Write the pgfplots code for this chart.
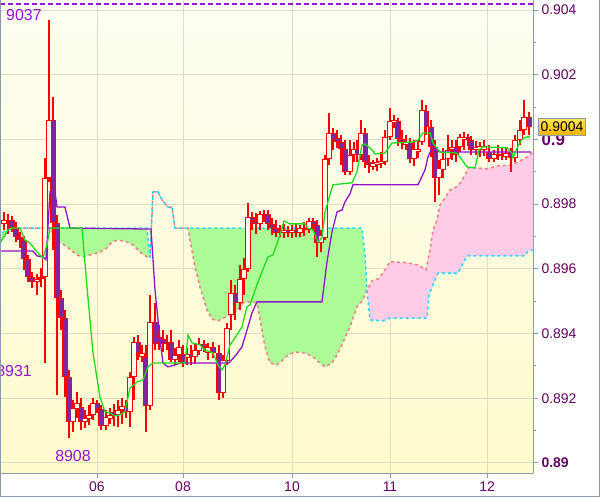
\documentclass[border=0pt]{standalone}
\usepackage{pgfplots}
\pgfplotsset{compat=1.18}
\usepackage{pgfplotstable}
\usepgfplotslibrary{fillbetween}
\usepackage{fontspec}
\setmainfont{Liberation Sans}
\definecolor{candlered}{RGB}{255,0,0}
\definecolor{bearfill}{RGB}{128,36,160}
\definecolor{bullfill}{RGB}{255,254,232}
\definecolor{tenkanc}{RGB}{30,220,30}
\definecolor{kijunc}{RGB}{145,20,205}
\definecolor{spanAc}{RGB}{40,215,255}
\definecolor{spanBc}{RGB}{240,128,128}
\definecolor{cloudg}{RGB}{172,252,152}
\definecolor{cloudp}{RGB}{255,204,232}
\definecolor{gridc}{RGB}{222,222,196}
\definecolor{framec}{RGB}{140,155,170}
\definecolor{labelc}{RGB}{102,0,102}
\definecolor{hiloc}{RGB}{150,20,210}
\definecolor{bgtop}{RGB}{254,254,243}
\definecolor{bgbot}{RGB}{255,251,204}
\definecolor{boxtop}{RGB}{255,232,90}
\definecolor{boxbot}{RGB}{240,180,0}

\pgfplotstableread{
x o h l c
4 0.89739 0.89776 0.89720 0.89751
8 0.89745 0.89770 0.89708 0.89748
12 0.89751 0.89764 0.89714 0.89726
16 0.89726 0.89745 0.89683 0.89699
20 0.89699 0.89714 0.89665 0.89689
24 0.89689 0.89702 0.89597 0.89631
28 0.89631 0.89643 0.89560 0.89575
32 0.89575 0.89591 0.89541 0.89560
37 0.89560 0.89585 0.89519 0.89569
41 0.89569 0.89603 0.89544 0.89575
45 0.89575 0.89943 0.89309 0.89881
49 0.89881 0.90369 0.89869 0.90060
53 0.90060 0.90131 0.89658 0.89742
57 0.89742 0.89767 0.89210 0.89510
61 0.89510 0.89535 0.89411 0.89448
65 0.89448 0.89473 0.89204 0.89266
69 0.89266 0.89288 0.89078 0.89127
73 0.89127 0.89195 0.89096 0.89170
77 0.89167 0.89220 0.89139 0.89186
81 0.89173 0.89201 0.89102 0.89127
85 0.89127 0.89164 0.89108 0.89139
89 0.89136 0.89179 0.89118 0.89149
93 0.89149 0.89201 0.89133 0.89186
97 0.89186 0.89195 0.89155 0.89167
101 0.89167 0.89179 0.89102 0.89115
106 0.89115 0.89164 0.89102 0.89142
110 0.89136 0.89170 0.89121 0.89149
114 0.89158 0.89182 0.89115 0.89145
118 0.89149 0.89195 0.89112 0.89164
122 0.89164 0.89201 0.89121 0.89176
126 0.89173 0.89195 0.89139 0.89158
130 0.89158 0.89282 0.89112 0.89266
134 0.89266 0.89390 0.89195 0.89374
138 0.89374 0.89396 0.89319 0.89340
142 0.89328 0.89365 0.89312 0.89340
146 0.89328 0.89365 0.89096 0.89176
150 0.89176 0.89519 0.89164 0.89436
155 0.89436 0.89495 0.89349 0.89368
159 0.89390 0.89427 0.89349 0.89374
163 0.89383 0.89411 0.89343 0.89368
167 0.89368 0.89396 0.89349 0.89374
171 0.89374 0.89411 0.89312 0.89319
175 0.89319 0.89356 0.89303 0.89334
179 0.89334 0.89380 0.89312 0.89359
183 0.89337 0.89365 0.89297 0.89309
187 0.89325 0.89356 0.89303 0.89337
191 0.89337 0.89365 0.89303 0.89328
195 0.89328 0.89371 0.89306 0.89349
199 0.89346 0.89387 0.89334 0.89368
204 0.89368 0.89380 0.89343 0.89359
208 0.89340 0.89371 0.89319 0.89359
213 0.89359 0.89374 0.89325 0.89340
219 0.89340 0.89365 0.89195 0.89217
223 0.89217 0.89334 0.89201 0.89319
227 0.89315 0.89433 0.89303 0.89417
231 0.89458 0.89566 0.89411 0.89526
235 0.89526 0.89550 0.89442 0.89495
240 0.89495 0.89612 0.89473 0.89569
244 0.89569 0.89634 0.89519 0.89600
248 0.89600 0.89804 0.89591 0.89761
252 0.89761 0.89776 0.89720 0.89748
256 0.89748 0.89773 0.89708 0.89739
260 0.89739 0.89779 0.89720 0.89770
264 0.89767 0.89782 0.89745 0.89770
268 0.89770 0.89782 0.89720 0.89739
272 0.89739 0.89757 0.89705 0.89726
276 0.89726 0.89751 0.89699 0.89711
280 0.89711 0.89736 0.89699 0.89717
284 0.89711 0.89739 0.89696 0.89720
288 0.89720 0.89733 0.89699 0.89711
292 0.89711 0.89736 0.89696 0.89720
296 0.89720 0.89739 0.89699 0.89711
300 0.89711 0.89736 0.89699 0.89726
304 0.89720 0.89745 0.89702 0.89726
309 0.89720 0.89757 0.89711 0.89748
313 0.89748 0.89757 0.89720 0.89736
317 0.89736 0.89751 0.89637 0.89680
321 0.89680 0.89720 0.89652 0.89705
325 0.89696 0.89952 0.89689 0.89940
329 0.89940 0.90082 0.89921 0.90020
333 0.90020 0.90035 0.89968 0.89998
337 0.90005 0.90029 0.89974 0.89992
341 0.89992 0.90014 0.89921 0.89971
345 0.89971 0.89998 0.89890 0.89900
350 0.89900 0.89998 0.89890 0.89952
354 0.89952 0.89992 0.89930 0.89971
357 0.89971 0.89998 0.89930 0.89952
361 0.89952 0.90060 0.89937 0.90020
365 0.90020 0.90035 0.89912 0.89930
369 0.89930 0.89952 0.89897 0.89921
373 0.89915 0.89937 0.89906 0.89927
377 0.89921 0.89943 0.89903 0.89930
381 0.89924 0.89961 0.89912 0.89934
385 0.89930 0.90029 0.89921 0.90008
390 0.90008 0.90097 0.89998 0.90057
394 0.90051 0.90076 0.90035 0.90060
398 0.90057 0.90066 0.89980 0.90001
402 0.90001 0.90029 0.89971 0.89992
406 0.89983 0.90014 0.89968 0.89992
410 0.89992 0.90005 0.89927 0.89940
414 0.89940 0.89998 0.89918 0.89971
418 0.89961 0.89998 0.89943 0.89971
422 0.89992 0.90122 0.89983 0.90091
426 0.90088 0.90107 0.90014 0.90039
431 0.90039 0.90060 0.89946 0.89977
435 0.89977 0.89998 0.89807 0.89881
439 0.89881 0.89937 0.89829 0.89912
443 0.89906 0.89974 0.89881 0.89940
448 0.89940 0.90014 0.89918 0.89968
452 0.89968 0.89998 0.89937 0.89977
456 0.89977 0.89998 0.89930 0.89952
460 0.89977 0.90017 0.89961 0.90008
464 0.89998 0.90023 0.89968 0.90008
468 0.90008 0.90017 0.89980 0.89998
471 0.89998 0.90011 0.89952 0.89968
476 0.89968 0.89995 0.89952 0.89977
480 0.89968 0.89992 0.89946 0.89980
484 0.89968 0.89998 0.89949 0.89980
489 0.89961 0.89983 0.89930 0.89940
494 0.89940 0.89968 0.89930 0.89955
498 0.89949 0.89983 0.89937 0.89955
502 0.89949 0.89974 0.89937 0.89955
506 0.89946 0.89974 0.89937 0.89958
511 0.89961 0.89974 0.89900 0.89943
515 0.89943 0.90014 0.89930 0.89998
520 0.89998 0.90060 0.89983 0.90029
524 0.90029 0.90122 0.90014 0.90069
529 0.90069 0.90085 0.90014 0.90039
}\candles

\pgfplotstableread{
x y
0 0.89680
8 0.89720
12 0.89726
20 0.89726
25 0.89689
30 0.89680
37 0.89652
43 0.89634
47 0.89674
50 0.89726
82 0.89726
87 0.89544
93 0.89340
100 0.89204
105 0.89158
110 0.89155
115 0.89145
120 0.89149
125 0.89158
130 0.89232
137 0.89250
143 0.89257
148 0.89297
153 0.89309
185 0.89309
188 0.89396
192 0.89371
200 0.89365
205 0.89349
213 0.89340
218 0.89303
222 0.89288
225 0.89303
230 0.89365
237 0.89396
242 0.89421
247 0.89483
250 0.89489
258 0.89560
268 0.89637
273 0.89643
280 0.89705
284 0.89748
290 0.89739
305 0.89739
308 0.89726
313 0.89720
318 0.89683
322 0.89696
325 0.89776
330 0.89829
333 0.89860
352 0.89866
357 0.89900
362 0.89983
365 0.89986
372 0.89968
375 0.89955
385 0.89958
392 0.89989
413 0.89992
418 0.89998
423 0.90020
430 0.90020
433 0.89989
440 0.89961
457 0.89958
462 0.89937
467 0.89915
475 0.89912
479 0.89968
483 0.89977
507 0.89974
512 0.89958
513 0.89943
517 0.89974
522 0.90001
527 0.90008
530 0.90008
}\tenkan

\pgfplotstableread{
x y
0 0.89655
33 0.89655
37 0.89640
43 0.89637
46 0.89628
50 0.89838
55 0.89838
57 0.89791
65 0.89791
70 0.89726
151 0.89723
155 0.89535
160 0.89380
163 0.89309
168 0.89297
175 0.89303
180 0.89309
229 0.89309
236 0.89334
242 0.89359
247 0.89411
252 0.89464
257 0.89498
322 0.89498
327 0.89622
332 0.89714
337 0.89776
342 0.89782
345 0.89807
350 0.89832
353 0.89860
418 0.89860
425 0.89906
428 0.89946
432 0.89974
435 0.89971
440 0.89961
531 0.89961
}\kijun

\pgfplotstableread{
x y
0 0.89705
6 0.89720
13 0.89726
147 0.89726
150 0.89634
153 0.89838
158 0.89838
162 0.89813
168 0.89791
172 0.89791
175 0.89726
188 0.89726
362 0.89726
365 0.89643
367 0.89535
368 0.89504
370 0.89442
383 0.89439
390 0.89448
427 0.89448
429 0.89519
433 0.89550
438 0.89587
458 0.89587
467 0.89640
525 0.89640
528 0.89655
533 0.89658
}\spanA

\pgfplotstableread{
x y
0 0.89680
7 0.89711
12 0.89726
50 0.89726
57 0.89689
67 0.89668
77 0.89643
83 0.89637
90 0.89643
100 0.89652
107 0.89665
112 0.89683
118 0.89689
127 0.89683
133 0.89674
140 0.89652
147 0.89637
150 0.89634
153 0.89838
158 0.89838
162 0.89813
168 0.89791
172 0.89791
175 0.89726
188 0.89726
190 0.89689
195 0.89606
200 0.89544
207 0.89473
212 0.89445
218 0.89439
225 0.89451
235 0.89467
243 0.89495
252 0.89498
257 0.89495
262 0.89411
265 0.89359
270 0.89309
277 0.89303
283 0.89319
288 0.89334
295 0.89343
305 0.89340
313 0.89328
320 0.89309
325 0.89297
332 0.89309
338 0.89340
345 0.89387
350 0.89421
357 0.89483
363 0.89504
367 0.89535
372 0.89563
378 0.89569
383 0.89587
390 0.89622
407 0.89619
418 0.89612
426 0.89597
430 0.89658
433 0.89720
437 0.89751
440 0.89798
445 0.89819
450 0.89844
458 0.89856
465 0.89890
468 0.89912
477 0.89912
487 0.89909
497 0.89918
510 0.89921
518 0.89930
527 0.89946
533 0.89961
}\spanB

\begin{document}
\begin{tikzpicture}
\begin{axis}[
  at={(0,0)}, anchor=north west,
  scale only axis, width=533bp, height=473bp,
  xmin=0, xmax=533, ymin=0.88969, ymax=0.90431,
  axis x line*=bottom, axis y line*=right,
  axis line style={draw=framec, line width=1bp, -},
  tick align=outside, major tick length=5bp, minor tick length=3bp,
  tick style={draw=framec, line width=1bp},
  xtick={97,183,292,390,487}, xticklabels={06,08,10,11,12},
  ytick={0.89,0.892,0.894,0.896,0.898,0.9,0.902,0.904},
  yticklabels={\textbf{0.89},0.892,0.894,0.896,0.898,{\fontsize{17}{17}\selectfont\textbf{0.9}},0.902,0.904},
  minor ytick={0.891,0.893,0.895,0.897,0.899,0.901,0.903},
  scaled y ticks=false,
  grid=major, major grid style={draw=gridc, line width=1bp},
  ticklabel style={font=\fontsize{14}{14}\selectfont, text=labelc},
  yticklabel style={anchor=west},
  axis background/.style={shade, top color=bgtop, bottom color=bgbot},
  clip mode=individual,
  candle/.style={draw=none, mark=none, forget plot,
    error bars/.cd, y dir=plus, y explicit, error mark=none},
]
% cloud
\addplot[draw=none, name path=A, forget plot] table[x=x,y=y]{\spanA};
\addplot[draw=none, name path=B, forget plot] table[x=x,y=y]{\spanB};
\addplot[fill=cloudg, draw=none] fill between[of=A and B, soft clip={domain=0:367}];
\addplot[fill=cloudp, draw=none] fill between[of=A and B, soft clip={domain=367:533}];
\addplot[spanBc, line width=1.5bp, dash pattern=on 3bp off 3bp] table[x=x,y=y]{\spanB};
\addplot[spanAc, line width=1.5bp, dash pattern=on 3bp off 3bp, dash phase=3bp] table[x=x,y=y]{\spanA};
% high line
\addplot[hiloc, line width=1.3bp, dash pattern=on 5bp off 3bp] coordinates {(0,0.90419) (533,0.90419)};
% wicks
\addplot[candle, error bar style={draw=candlered, line width=1.2bp, solid}]
  table[x=x, y=l, y error expr=\thisrow{h}-\thisrow{l}] {\candles};
% bodies outer
\addplot[candle, error bar style={draw=candlered, line width=5.6bp, solid}]
  table[x=x, y expr={min(\thisrow{o},\thisrow{c})}, y error expr={abs(\thisrow{o}-\thisrow{c})}] {\candles};
% bull inner
\addplot[candle, error bar style={draw=bullfill, line width=3.2bp, solid}]
  table[x=x, y expr={min(\thisrow{o},\thisrow{c})+0.000037}, y error expr={(\thisrow{c}>\thisrow{o})*max(abs(\thisrow{o}-\thisrow{c})-0.000074,0)}] {\candles};
% bear inner
\addplot[candle, error bar style={draw=bearfill, line width=3.2bp, solid}]
  table[x=x, y expr={min(\thisrow{o},\thisrow{c})+0.000037}, y error expr={(\thisrow{o}>\thisrow{c})*max(abs(\thisrow{o}-\thisrow{c})-0.000074,0)}] {\candles};
% lines
\addplot[kijunc, line width=1.3bp] table[x=x,y=y]{\kijun};
\addplot[tenkanc, line width=1.3bp] table[x=x,y=y]{\tenkan};
% labels
\node[anchor=west, inner sep=0pt, text=hiloc, font=\fontsize{16}{16}\selectfont] at (axis cs:6,0.90385) {9037};
\node[anchor=east, inner sep=0pt, text=hiloc, font=\fontsize{16}{16}\selectfont] at (axis cs:32,0.89283) {8931};
\node[inner sep=0pt, text=hiloc, font=\fontsize{16}{16}\selectfont] at (axis cs:73,0.89022) {8908};
\coordinate (pbox) at (axis cs:533,0.9004);
\end{axis}
\node[anchor=west, xshift=5bp, minimum width=47bp, minimum height=17bp, inner sep=0pt,
  draw=framec, line width=1bp, top color=boxtop, bottom color=boxbot,
  font=\fontsize{14}{14}\selectfont] at (pbox) {0.9004};
\draw[framec, line width=1bp] (0.5bp,0) -- (0.5bp,-496.5bp) -- (599.5bp,-496.5bp) -- (599.5bp,0);
\pgfresetboundingbox
\useasboundingbox (0,0) rectangle (600bp,-497bp);
\end{tikzpicture}
\end{document}
